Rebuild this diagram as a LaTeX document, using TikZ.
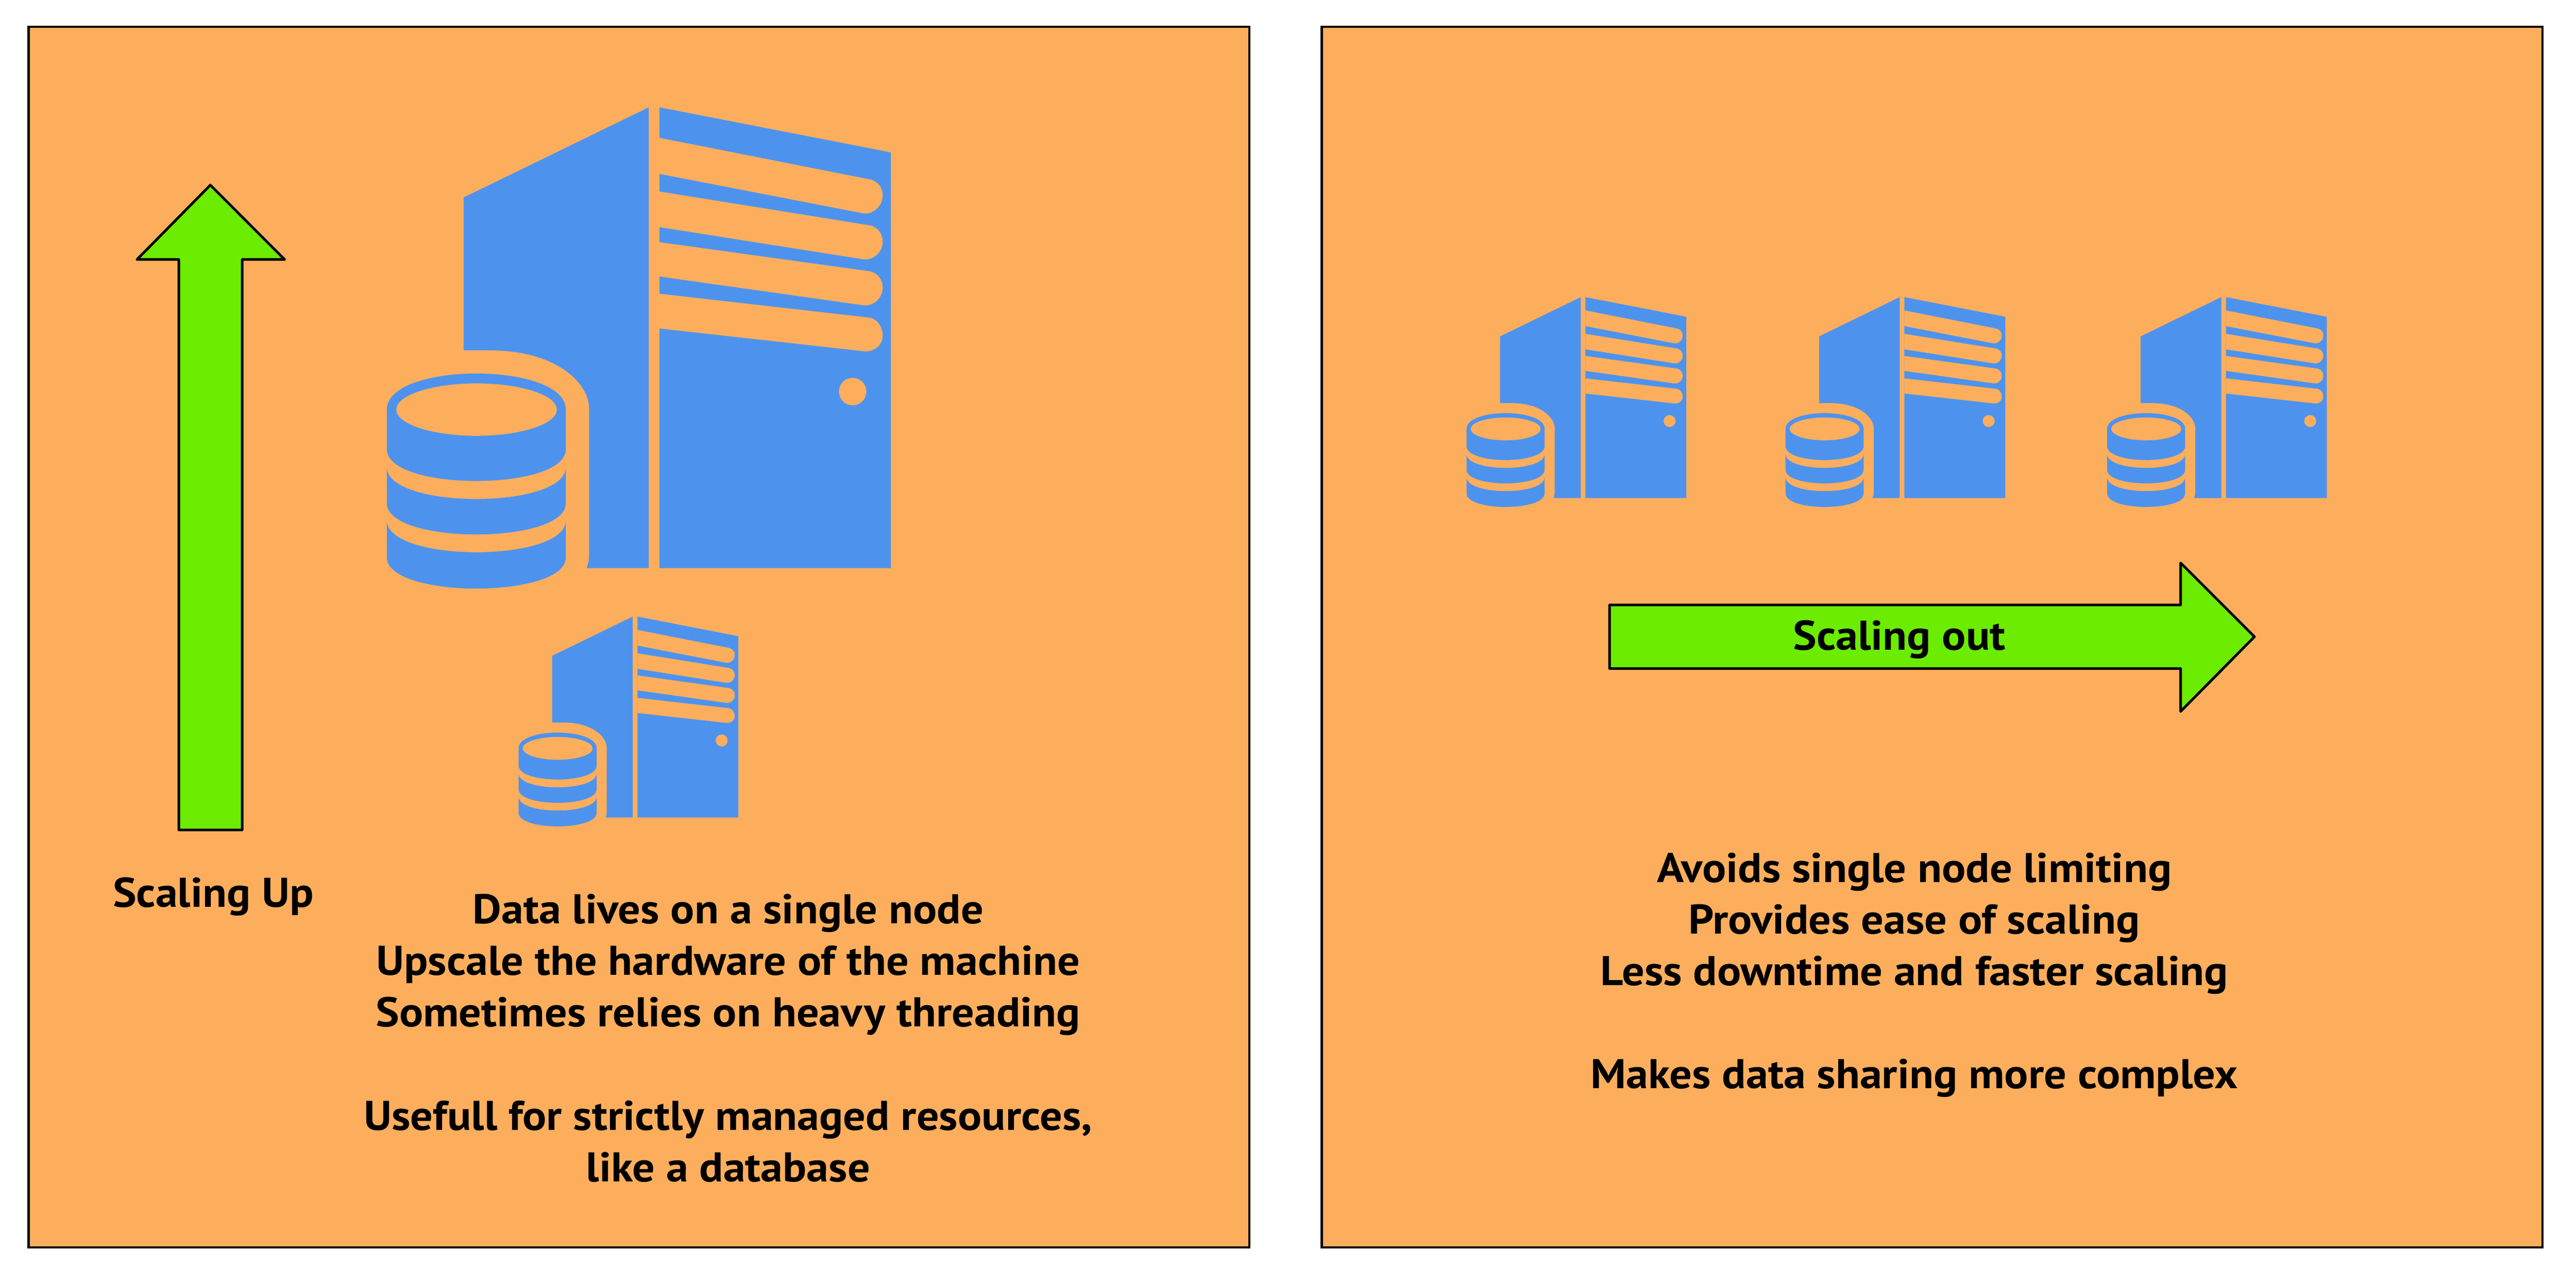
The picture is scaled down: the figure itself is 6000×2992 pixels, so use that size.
\documentclass[tikz,border=0pt]{standalone}
\usepackage{fontspec}
\setmainfont{PT Sans}[BoldFeatures={FakeStretch=1.07}]
\definecolor{panelorange}{HTML}{FCAE5D}
\definecolor{serverblue}{HTML}{4D93EE}
\definecolor{arrowgreen}{HTML}{6CEC00}
\begin{document}
\begin{tikzpicture}[
    x=0.01cm, y=-0.01cm,
    panel/.style={draw=black, fill=panelorange, line width=5*0.01cm},
    bigarrow/.style={draw=black, fill=arrowgreen, line width=6*0.01cm, line join=round},
    caption/.style={anchor=base, align=center, inner sep=0pt, font=\fontsize{27.5}{34.14}\selectfont\bfseries},
    bluepart/.style={fill=serverblue},
    cutpart/.style={fill=panelorange},
    servericon/.pic={
      % tower
      \fill[bluepart] (1080,460) -- (1511,250) -- (1511,1323) -- (1366,1323)
        .. controls (1370,1314) and (1372,1304) .. (1372,1294) -- (1372,950)
        .. controls (1372,895) and (1300,816) .. (1140,816) -- (1080,816) -- cycle;
      \fill[bluepart] (1536,250) -- (2075,355) -- (2075,1323) -- (1536,1323) -- cycle;
      % slots
      \foreach \ytl/\ybl/\ytr/\ybr/\ymid in {321/405/418/497/456, 446/529/525/604/564, 564/644/632/711/671, 684/765/740/818/782} {
        \fill[cutpart] (1536,\ytl) -- (2027,\ytr)
          .. controls (2045,\ytr+5) and (2056,\ymid-20) .. (2056,\ymid)
          .. controls (2056,\ymid+22) and (2035,\ybr+3) .. (2011,\ybr)
          -- (1536,\ybl) -- cycle;
      }
      \fill[cutpart] (1986,912) circle [radius=32];
      % disk
      \fill[bluepart] (901,1046) -- (901,954) .. controls (901,842) and (1318,842) .. (1318,954)
        -- (1318,1046) .. controls (1318,1145) and (901,1145) .. cycle;
      \fill[cutpart] (1110,954) ellipse [x radius=187, y radius=61];
      \foreach \ytop/\ybot in {1088/1172, 1212/1298} {
        \fill[bluepart] (901,\ytop) .. controls (901,\ytop+99) and (1318,\ytop+99) .. (1318,\ytop)
          -- (1318,\ybot) .. controls (1318,\ybot+97) and (901,\ybot+97) .. (901,\ybot) -- cycle;
      }
    },
]
\useasboundingbox (0,0) rectangle (6000,2992);

% panels
\draw[panel] (66.5,62.5) rectangle (2909.5,2905.5);
\draw[panel] (3078.5,62.5) rectangle (5921.5,2905.5);

% left panel
\pic (bigserver) at (0,0) {servericon};
\pic[scale=0.436] (smallserver) at (815,1327) {servericon};
\draw[bigarrow] (416.5,1933) -- (416.5,604.5) -- (319,604.5) -- (490,431) -- (663,604.5)
  -- (564,604.5) -- (564,1933) -- cycle;
\node[caption] (scalingup) at (497,2112) {Scaling Up};
\node[caption, anchor=north] (lefttext) at (1696,2082) {Data lives on a single node\\
  Upscale the hardware of the machine\\
  Sometimes relies on heavy threading\\[34.14pt]
  Usefull for strictly managed resources,\\
  like a database};

% right panel
\foreach \sx/\sname in {3023/serverA, 3766/serverB, 4515/serverC} {
  \pic[scale=0.436] (\sname) at (\sx,583) {servericon};
}
\draw[bigarrow] (3749,1409) -- (5079,1409) -- (5079,1311) -- (5251,1483) -- (5079,1657)
  -- (5079,1557) -- (3749,1557) -- cycle;
\node[caption] (scalingout) at (4424,1514) {Scaling out};
\node[caption, anchor=north] (righttext) at (4459,1985) {Avoids single node limiting\\
  Provides ease of scaling\\
  Less downtime and faster scaling\\[34.14pt]
  Makes data sharing more complex};

\end{tikzpicture}
\end{document}
